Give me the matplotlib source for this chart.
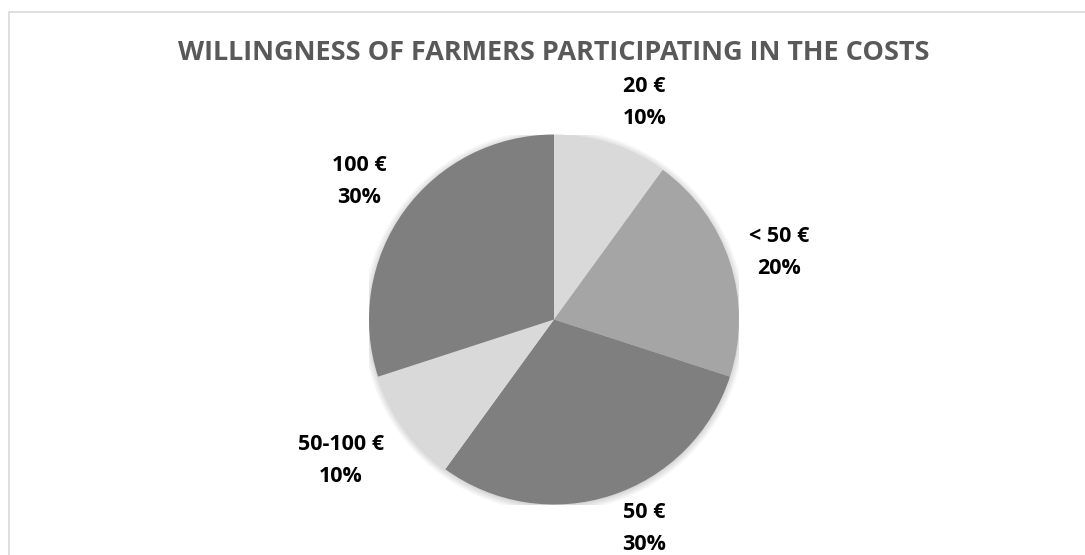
import numpy as np
import matplotlib.pyplot as plt
from matplotlib.patches import Rectangle, Circle

# Data
categories = ['20 €', '< 50 €', '50 €', '50-100 €', '100 €']
shares = [10, 20, 30, 10, 30]
colors = ['#d9d9d9', '#a5a5a5', '#7f7f7f', '#d9d9d9', '#7f7f7f']
title = 'WILLINGNESS OF FARMERS PARTICIPATING IN THE COSTS'

W, H = 1085, 555
fig = plt.figure(figsize = (W / 100, H / 100), dpi = 100)

# Light chart frame
fig.patches.append(Rectangle(
    (9 / W, -0.05), 1.1, 1 - 12 / H + 0.05,
    transform = fig.transFigure, fill = False,
    edgecolor = '#d9d9d9', linewidth = 1.2
))

cx, cy, r = 554, 555 - 319.5, 185
ax = fig.add_axes([(cx - r) / W, (cy - r) / H, 2 * r / W, 2 * r / H])

# soft shadow behind the pie
for i in range(8):
    ax.add_patch(Circle((0, -0.006), 1 + 0.005 * i, color = 'black',
                        alpha = 0.018, linewidth = 0, zorder = 0))

wedges, _ = ax.pie(
    shares,
    colors = colors,
    startangle = 90,
    counterclock = False,
    radius = 1,
    wedgeprops = dict(linewidth = 0, zorder = 2)
)
ax.set_xlim(-1, 1)
ax.set_ylim(-1, 1)
ax.set_aspect('equal')
ax.axis('off')

# Data labels outside each slice (best-fit style placement)
label_dist = [1.27, 1.27, 1.23, 1.38, 1.29]
label_shift = [-4.7, -1.4, 5.4, -2.5, 0.6]
for w, cat, val, d, s in zip(wedges, categories, shares, label_dist, label_shift):
    ang = np.deg2rad((w.theta1 + w.theta2) / 2 + s)
    ax.text(
        d * np.cos(ang), d * np.sin(ang),
        f"{cat}\n{val}%",
        ha = 'center', va = 'center',
        fontsize = 15.5, fontweight = 'bold', family = 'Open Sans',
        color = 'black', linespacing = 1.7, clip_on = False
    )

t = fig.text(554 / W, 1 - 53 / H, title, ha = 'center', va = 'center',
             fontsize = 19, fontweight = 'bold', family = 'Open Sans', color = '#595959')

# fit title to its width of about 752 px
renderer = fig.canvas.get_renderer()
tw = t.get_window_extent(renderer).width
t.set_fontsize(19 * 752 / tw)

fig.savefig('out.png', dpi = 100)
